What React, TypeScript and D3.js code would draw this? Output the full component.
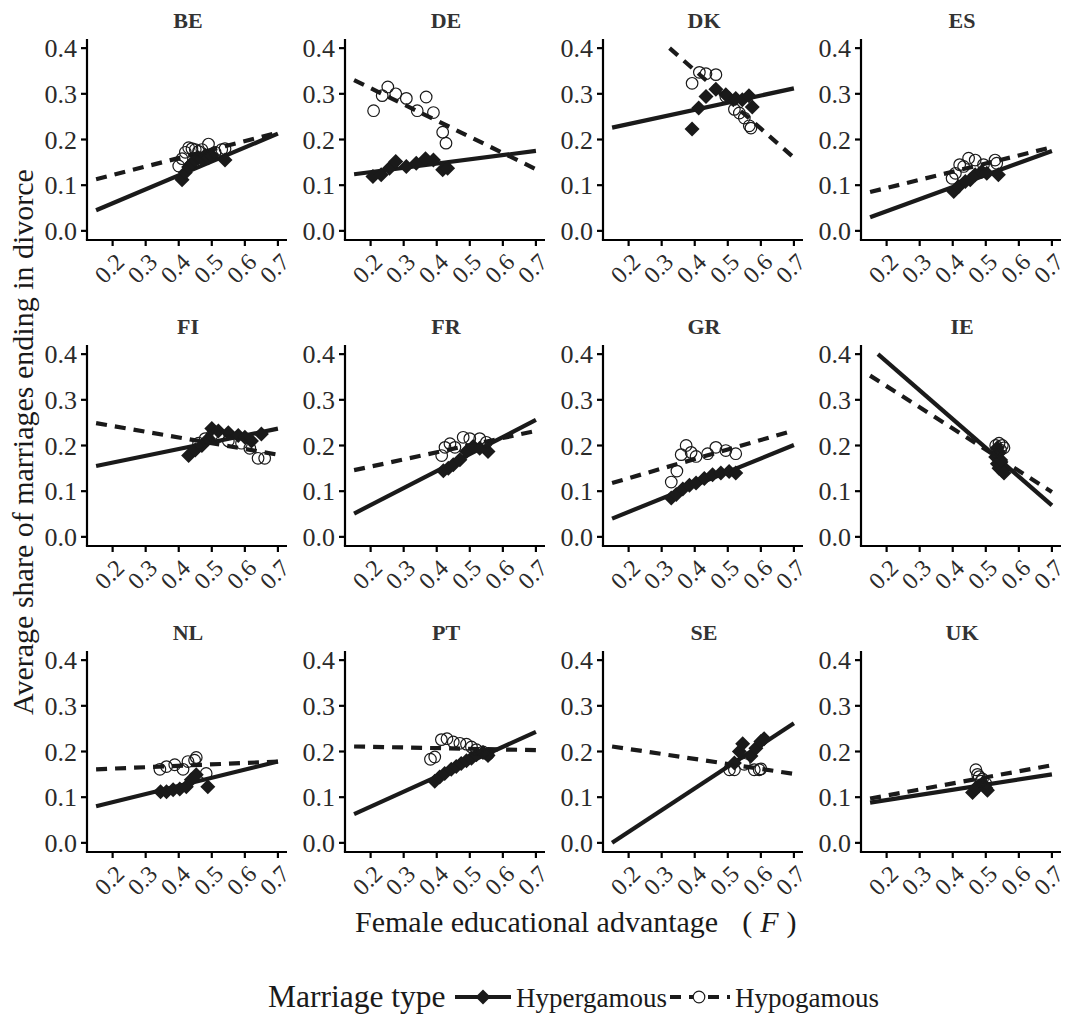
import React from "react";
import * as d3 from "d3";

const countries = ["BE", "DE", "DK", "ES", "FI", "FR", "GR", "IE", "NL", "PT", "SE", "UK"];
const xTicks = [0.2, 0.3, 0.4, 0.5, 0.6, 0.7];
const yTicks = [0, 0.1, 0.2, 0.3, 0.4];
const fitX = [0.15, 0.7];

// fitted line values at x = 0.15 and x = 0.7
const hyperFit = [
  [0.045, 0.213], [0.124, 0.175], [0.226, 0.312], [0.03, 0.175],
  [0.155, 0.237], [0.051, 0.256], [0.04, 0.201], [0.415, 0.069],
  [0.08, 0.178], [0.063, 0.243], [0.0, 0.262], [0.088, 0.15],
];
const hypoFit = [
  [0.113, 0.215], [0.33, 0.135], [0.511, 0.16], [0.085, 0.183],
  [0.249, 0.18], [0.146, 0.232], [0.118, 0.233], [0.353, 0.098],
  [0.161, 0.178], [0.211, 0.203], [0.211, 0.151], [0.097, 0.17],
];

const hyperPoints: number[][][] = [
  [[0.41, 0.112], [0.42, 0.128], [0.43, 0.14], [0.44, 0.148], [0.45, 0.155], [0.46, 0.16], [0.47, 0.158], [0.48, 0.165], [0.49, 0.16], [0.5, 0.165], [0.54, 0.155]],
  [[0.207, 0.119], [0.232, 0.123], [0.257, 0.137], [0.276, 0.152], [0.308, 0.141], [0.338, 0.148], [0.366, 0.158], [0.39, 0.155], [0.418, 0.134], [0.433, 0.137]],
  [[0.392, 0.223], [0.412, 0.269], [0.434, 0.294], [0.464, 0.31], [0.494, 0.298], [0.524, 0.29], [0.544, 0.287], [0.564, 0.296], [0.574, 0.271]],
  [[0.403, 0.086], [0.418, 0.097], [0.438, 0.108], [0.453, 0.112], [0.468, 0.123], [0.488, 0.13], [0.503, 0.126], [0.538, 0.123]],
  [[0.43, 0.178], [0.45, 0.19], [0.47, 0.2], [0.49, 0.215], [0.5, 0.237], [0.52, 0.232], [0.55, 0.228], [0.58, 0.222], [0.6, 0.218], [0.62, 0.21], [0.65, 0.225]],
  [[0.42, 0.145], [0.435, 0.15], [0.45, 0.158], [0.47, 0.169], [0.49, 0.187], [0.51, 0.198], [0.53, 0.194], [0.555, 0.187]],
  [[0.329, 0.085], [0.344, 0.093], [0.364, 0.105], [0.384, 0.113], [0.404, 0.118], [0.429, 0.128], [0.454, 0.136], [0.479, 0.14], [0.504, 0.143], [0.524, 0.14]],
  [[0.53, 0.175], [0.535, 0.16], [0.54, 0.15], [0.55, 0.145], [0.555, 0.14], [0.545, 0.168], [0.54, 0.185], [0.535, 0.195]],
  [[0.345, 0.112], [0.363, 0.112], [0.383, 0.116], [0.403, 0.118], [0.423, 0.123], [0.438, 0.138], [0.453, 0.149], [0.488, 0.123]],
  [[0.394, 0.135], [0.409, 0.144], [0.424, 0.152], [0.444, 0.161], [0.459, 0.167], [0.474, 0.174], [0.49, 0.18], [0.505, 0.185], [0.52, 0.193], [0.54, 0.198], [0.555, 0.191]],
  [[0.52, 0.175], [0.535, 0.2], [0.545, 0.217], [0.57, 0.19], [0.585, 0.207], [0.6, 0.222], [0.61, 0.228]],
  [[0.46, 0.11], [0.47, 0.12], [0.48, 0.125], [0.49, 0.13], [0.5, 0.12], [0.505, 0.115]],
];

const hypoPoints: number[][][] = [
  [[0.4, 0.142], [0.41, 0.158], [0.42, 0.172], [0.43, 0.182], [0.44, 0.18], [0.45, 0.178], [0.46, 0.174], [0.47, 0.178], [0.49, 0.19], [0.51, 0.172], [0.53, 0.178], [0.54, 0.18]],
  [[0.209, 0.263], [0.235, 0.296], [0.252, 0.315], [0.276, 0.3], [0.308, 0.29], [0.341, 0.263], [0.368, 0.293], [0.39, 0.259], [0.418, 0.216], [0.428, 0.192]],
  [[0.392, 0.323], [0.414, 0.347], [0.434, 0.344], [0.464, 0.342], [0.494, 0.294], [0.52, 0.266], [0.535, 0.258], [0.55, 0.247], [0.565, 0.23], [0.57, 0.225]],
  [[0.398, 0.115], [0.408, 0.126], [0.421, 0.145], [0.433, 0.141], [0.448, 0.159], [0.468, 0.155], [0.493, 0.145], [0.528, 0.155], [0.533, 0.148]],
  [[0.46, 0.205], [0.48, 0.215], [0.5, 0.222], [0.52, 0.22], [0.55, 0.21], [0.59, 0.205], [0.615, 0.194], [0.64, 0.172], [0.66, 0.172]],
  [[0.415, 0.178], [0.425, 0.196], [0.44, 0.204], [0.455, 0.196], [0.48, 0.218], [0.5, 0.215], [0.53, 0.215], [0.55, 0.207]],
  [[0.329, 0.12], [0.346, 0.144], [0.359, 0.18], [0.374, 0.2], [0.389, 0.185], [0.404, 0.176], [0.439, 0.182], [0.464, 0.196], [0.494, 0.189], [0.524, 0.182]],
  [[0.53, 0.2], [0.54, 0.205], [0.55, 0.2], [0.545, 0.19], [0.535, 0.185], [0.555, 0.195]],
  [[0.343, 0.161], [0.363, 0.167], [0.388, 0.171], [0.413, 0.161], [0.428, 0.178], [0.448, 0.181], [0.453, 0.187], [0.483, 0.152]],
  [[0.381, 0.183], [0.394, 0.188], [0.414, 0.226], [0.431, 0.228], [0.45, 0.221], [0.47, 0.218], [0.49, 0.216], [0.505, 0.21], [0.52, 0.204], [0.54, 0.199], [0.555, 0.194]],
  [[0.505, 0.16], [0.52, 0.16], [0.55, 0.172], [0.58, 0.16], [0.595, 0.16], [0.6, 0.162]],
  [[0.47, 0.16], [0.475, 0.15], [0.48, 0.145], [0.49, 0.14], [0.485, 0.135], [0.5, 0.13]],
];

const W = 1065;
const H = 1014;
const colX = [87, 345, 603, 861];
const rowTop = [39, 345, 651];
const PW = 200;
const PH = 201;
const FONT = "'Liberation Serif', 'DejaVu Serif', serif";
const DR = 7.5; // diamond half-diagonal
const CR = 5.8; // circle radius

function diamond(cx: number, cy: number, r: number) {
  return `M${cx},${cy - r}L${cx + r},${cy}L${cx},${cy + r}L${cx - r},${cy}Z`;
}

function clipFit(ys: number[], ymax: number) {
  let [x0, x1] = fitX;
  let [y0, y1] = ys;
  if (y0 > ymax) {
    x0 = x0 + ((ymax - y0) / (y1 - y0)) * (x1 - x0);
    y0 = ymax;
  }
  if (y1 > ymax) {
    x1 = x0 + ((ymax - y0) / (y1 - y0)) * (x1 - x0);
    y1 = ymax;
  }
  return [[x0, y0], [x1, y1]];
}

function Panel({ idx }: { idx: number }) {
  const c = idx % 4;
  const r = Math.floor(idx / 4);
  const left = colX[c];
  const top = rowTop[r];
  const x = d3.scaleLinear().domain([0.1225, 0.7275]).range([left, left + PW]);
  const y = d3.scaleLinear().domain([-0.02, 0.42]).range([top + PH, top]);
  const line = d3.line<number[]>().x((d) => x(d[0])).y((d) => y(d[1]));
  const bottom = top + PH;
  return (
    <g>
      <text x={left + PW / 2 + 1} y={top - 11} textAnchor="middle" fontFamily={FONT} fontWeight="bold" fontSize={22} fill="#333">
        {countries[idx]}
      </text>
      <path d={line(clipFit(hypoFit[idx], 0.4)) || ""} stroke="#1a1a1a" strokeWidth={4.2} fill="none" strokeDasharray="11 8" />
      <path d={line(clipFit(hyperFit[idx], 0.4)) || ""} stroke="#1a1a1a" strokeWidth={4.2} fill="none" />
      {hyperPoints[idx].map((p, i) => (
        <path key={"d" + i} d={diamond(x(p[0]), y(p[1]), DR)} fill="#1a1a1a" />
      ))}
      {hypoPoints[idx].map((p, i) => (
        <circle key={"c" + i} cx={x(p[0])} cy={y(p[1])} r={CR} fill="none" stroke="#1a1a1a" strokeWidth={1.2} />
      ))}
      <line x1={left} x2={left} y1={top} y2={bottom} stroke="#000" strokeWidth={2.2} />
      <line x1={left - 1.1} x2={left + PW} y1={bottom} y2={bottom} stroke="#000" strokeWidth={2.2} />
      {yTicks.map((t) => (
        <g key={"y" + t}>
          <line x1={left - 6} x2={left} y1={y(t)} y2={y(t)} stroke="#000" strokeWidth={2.2} />
          <text x={left - 10} y={y(t)} dy="0.35em" textAnchor="end" fontFamily={FONT} fontSize={26} fill="#2a2a2a">
            {t.toFixed(1)}
          </text>
        </g>
      ))}
      {xTicks.map((t) => (
        <g key={"x" + t}>
          <line x1={x(t)} x2={x(t)} y1={bottom} y2={bottom + 6} stroke="#000" strokeWidth={2.2} />
          <text
            transform={`translate(${x(t) + 1.5},${bottom + 12}) rotate(-45)`}
            dy="0.68em"
            textAnchor="end"
            fontFamily={FONT}
            fontSize={24}
            fill="#2a2a2a"
          >
            {t.toFixed(1)}
          </text>
        </g>
      ))}
    </g>
  );
}

export default function App() {
  return (
    <svg width={W} height={H} style={{ display: "block", position: "absolute", left: 0, top: 0, background: "#fff" }}>
      <rect width={W} height={H} fill="#fff" />
      {countries.map((_, i) => (
        <Panel key={i} idx={i} />
      ))}
      <text
        transform={`translate(33,442) rotate(-90)`}
        textAnchor="middle"
        fontFamily={FONT}
        fontSize={30}
        fill="#1a1a1a"
      >
        Average share of marriages ending in divorce
      </text>
      <text x={355} y={932} fontFamily={FONT} fontSize={30} fill="#1a1a1a">
        Female educational advantage
        <tspan dx={24}>(</tspan>
        <tspan dx={8} fontStyle="italic">F</tspan>
        <tspan dx={8}>)</tspan>
      </text>
      <text x={268} y={1007} fontFamily={FONT} fontSize={31.5} fill="#1a1a1a">
        Marriage type
      </text>
      <line x1={455} x2={511} y1={997} y2={997} stroke="#1a1a1a" strokeWidth={4.2} />
      <path d={diamond(483, 997, DR)} fill="#1a1a1a" />
      <text x={516} y={1007} fontFamily={FONT} fontSize={27} fill="#1a1a1a">
        Hypergamous
      </text>
      <line x1={670} x2={730} y1={997} y2={997} stroke="#1a1a1a" strokeWidth={4.2} strokeDasharray="11 8" />
      <circle cx={699} cy={997} r={CR} fill="#fff" stroke="#1a1a1a" strokeWidth={1.2} />
      <text x={735} y={1007} fontFamily={FONT} fontSize={27} fill="#1a1a1a">
        Hypogamous
      </text>
    </svg>
  );
}
